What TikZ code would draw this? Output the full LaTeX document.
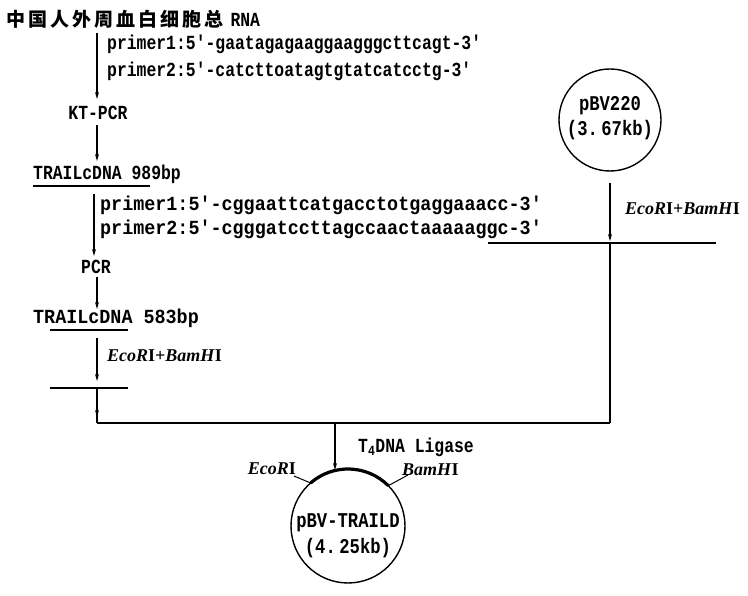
\documentclass[tikz,border=0pt]{standalone}
\usepackage{fontspec}
\setmainfont{Liberation Serif}
\newfontfamily\cjk[LetterSpace=16]{Noto Sans CJK SC}
\newfontfamily\monof[FakeStretch=0.82]{Liberation Mono}
\newfontfamily\monow[FakeStretch=0.92]{Liberation Mono}
\usetikzlibrary{arrows.meta,calc}
\begin{document}
\begin{tikzpicture}[x=1pt,y=-1pt,
  mono/.style={font=\monof\bfseries\fontsize{20}{20}\selectfont,inner sep=0pt,anchor=west},
  monowide/.style={font=\monow\bfseries\fontsize{20}{20}\selectfont,inner sep=0pt,anchor=west},
  ctext/.style={font=\monof\bfseries\fontsize{21}{21}\selectfont,inner sep=0pt,anchor=center},
  enz/.style={font=\bfseries\fontsize{18}{18}\selectfont,inner sep=0pt,anchor=west},
  arr/.style={line width=1.1pt,-{Stealth[length=7pt,width=4pt]}},
  ln/.style={line width=1.6pt},
  ul/.style={line width=2pt}]
\useasboundingbox (0,0) rectangle (748,596);
\fill[white] (0,0) rectangle (748,596);
% title
\node[inner sep=0pt,anchor=west] (title) at (6,19) {{\cjk\bfseries\fontsize{19}{19}\selectfont 中国人外周血白细胞总}\hspace{7pt}{\monof\bfseries\fontsize{20}{20}\selectfont RNA}};
% first RT-PCR step
\node[mono] (p1a) at (107,44) {primer1:5'-gaatagagaaggaagggcttcagt-3'};
\node[mono] (p2a) at (107,71) {primer2:5'-catcttoatagtgtatcatcctg-3'};
\coordinate (a1s) at (97,33); \coordinate (a1e) at (97,99);
\draw[arr] (a1s) -- (a1e);
\node[mono,anchor=center] (kt) at (98,113) {KT-PCR};
\coordinate (a2s) at (97,125); \coordinate (a2e) at (97,161);
\draw[arr] (a2s) -- (a2e);
\node[mono] (t989) at (33,174) {TRAILcDNA 989bp};
\coordinate (u1s) at (33,186); \coordinate (u1e) at (150,186);
\draw[ul] (u1s) -- (u1e);
% second PCR
\node[monowide] (p1b) at (100,205) {primer1:5'-cggaattcatgacctotgaggaaacc-3'};
\node[monowide] (p2b) at (100,229) {primer2:5'-cgggatccttagccaactaaaaaggc-3'};
\coordinate (a3s) at (94,194); \coordinate (a3e) at (94,256);
\draw[arr] (a3s) -- (a3e);
\node[mono,anchor=center] (pcr) at (96,267) {PCR};
\coordinate (a4s) at (97,277); \coordinate (a4e) at (97,309);
\draw[arr] (a4s) -- (a4e);
\node[monowide] (t583) at (33,318) {TRAILcDNA 583bp};
\coordinate (u2s) at (50,330); \coordinate (u2e) at (128,330);
\draw[ul] (u2s) -- (u2e);
\coordinate (a5s) at (97,338); \coordinate (a5e) at (97,381);
\draw[arr] (a5s) -- (a5e);
\node[enz] (e1) at (107,356) {\textit{EcoR}I+\textit{BamH}I};
\coordinate (f1s) at (50,388); \coordinate (f1e) at (128,388);
\draw[ln] (f1s) -- (f1e);
\coordinate (f1m) at (97,388); \coordinate (j1) at (97,423);
\draw[line width=1.1pt] (f1m) -- (j1);
\coordinate (a6e) at (97,417);
\draw[arr] (f1m) -- (a6e);
% vector
\node[circle,draw,line width=1.4pt,minimum size=102pt,inner sep=0pt] (pbv) at (610,120) {};
\node[ctext] (pbvt) at (610,106) {pBV220};
\node[ctext] (pbvs) at (610,130) {(3.\,67kb)};
\coordinate (a7s) at (610,183); \coordinate (a7e) at (610,241);
\draw[arr] (a7s) -- (a7e);
\node[enz] (e2) at (625,209) {\textit{EcoR}I+\textit{BamH}I};
\coordinate (f2s) at (488,243); \coordinate (f2e) at (716,243);
\draw[ln] (f2s) -- (f2e);
\coordinate (f2m) at (610,243); \coordinate (j2) at (610,423);
\draw[line width=1.1pt] (f2m) -- (j2);
\draw[ln] (j1) -- (j2);
% ligation
\coordinate (a8s) at (335,423); \coordinate (a8e) at (335,470);
\draw[arr] (a8s) -- (a8e);
\node[mono] (lig) at (358,447) {T\textsubscript{4}DNA Ligase};
\node[circle,draw,line width=1.4pt,minimum size=114pt,inner sep=0pt] (rec) at (348,526) {};
\node[ctext] (rect) at (348,523) {pBV-TRAILD};
\node[ctext] (recs) at (348,548) {(4.\,25kb)};
\draw[line width=3.2pt] (rec.center) ++(-45:57) arc[start angle=-45,end angle=-131,radius=57];
\node[enz,anchor=east] (eco) at (296,469) {\textit{EcoR}I};
\node[enz] (bam) at (402,470) {\textit{BamH}I};
\coordinate (ecoL) at (294,476); \coordinate (ecoA) at ($(rec.center)+(-131:57)$);
\coordinate (bamL) at (408,475); \coordinate (bamA) at ($(rec.center)+(-45:57)$);
\draw[line width=1pt] (ecoL) -- (ecoA);
\draw[line width=1pt] (bamL) -- (bamA);
\end{tikzpicture}
\end{document}
